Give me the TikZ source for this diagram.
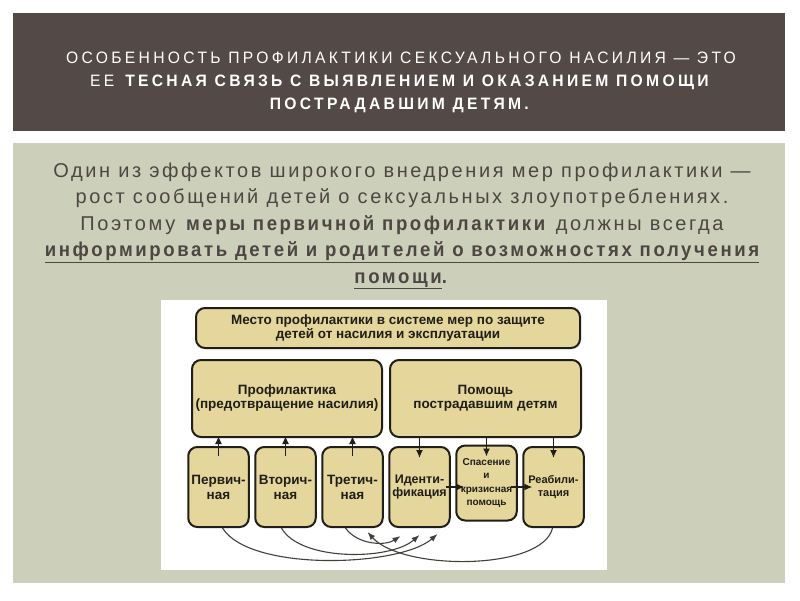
\documentclass[tikz,border=0pt]{standalone}
\usepackage{xcolor}
\usepackage{fontspec}
\setmainfont{Liberation Sans}
\newfontfamily\titlefont[FakeStretch=0.95,LetterSpace=20]{Liberation Sans}
\newfontfamily\bodyfont[LetterSpace=13,BoldFeatures={FakeStretch=0.93}]{Liberation Sans}
\usepackage{tikz}
\usetikzlibrary{arrows.meta,positioning}

\definecolor{headbg}{HTML}{534946}
\definecolor{panel}{HTML}{CCD0BA}
\definecolor{bodytext}{HTML}{4D4642}
\definecolor{tan}{HTML}{E5D69B}
\definecolor{ink}{HTML}{1F1E18}

\begin{document}
\begin{tikzpicture}[x=1pt,y=-1pt,
  block/.style={rectangle,draw=ink,line width=2pt,rounded corners=9pt,fill=tan,align=center,inner sep=1pt,text=ink,font=\fontsize{13.5}{14}\selectfont\bfseries},
  low/.style={block,minimum width=60.5pt,minimum height=80pt},
  arr/.style={-{Latex[length=8pt,width=7pt]},line width=1.5pt,draw=ink},
  backarr/.style={-{Latex[length=8pt,width=6pt]},line width=1.1pt,draw=ink!85}
]
\useasboundingbox (0,0) rectangle (800,600);
\fill[white] (0,0) rectangle (800,600);
\fill[headbg] (13,13) rectangle (785,131);
\fill[panel] (13,143) rectangle (785,583);
\fill[white] (161,300) rectangle (607,570);

\node[text=white,align=center,font=\titlefont\fontsize{16.5}{23}\selectfont] (title) at (401,82)
  {ОСОБЕННОСТЬ ПРОФИЛАКТИКИ СЕКСУАЛЬНОГО НАСИЛИЯ — ЭТО\\
   ЕЕ \textbf{ТЕСНАЯ СВЯЗЬ С ВЫЯВЛЕНИЕМ И ОКАЗАНИЕМ ПОМОЩИ}\\
   \textbf{ПОСТРАДАВШИМ ДЕТЯМ.}};

\node[text=bodytext,align=center,font=\bodyfont\fontsize{20}{26.5}\selectfont] (lead) at (402,226)
  {Один из эффектов широкого внедрения мер профилактики —\\
   рост сообщений детей о сексуальных злоупотреблениях.\\
   Поэтому \textbf{меры первичной профилактики} должны всегда\\
   \textbf{\underline{информировать детей и родителей о возможностях получения}}\\
   \textbf{\underline{помощи}.}};

% upper levels
\node[block,minimum width=384pt,minimum height=40pt] (place) at (388,328)
  {Место профилактики в системе мер по защите\\детей от насилия и эксплуатации};
\node[block,minimum width=190pt,minimum height=77pt] (prev) at (287,398.5)
  {Профилактика\\(предотвращение насилия)};
\node[block,minimum width=191pt,minimum height=77pt,right=6pt of prev] (help)
  {Помощь\\пострадавшим детям};

% lower level
\node[low,font=\fontsize{13.5}{15}\selectfont\bfseries] (pri) at (218.5,487) {Первич-\\ная};
\node[low,font=\fontsize{13.5}{15}\selectfont\bfseries,right=4.5pt of pri] (sec) {Вторич-\\ная};
\node[low,font=\fontsize{13.5}{15}\selectfont\bfseries,right=4.5pt of sec] (ter) {Третич-\\ная};
\node[low,font=\fontsize{12.5}{13.5}\selectfont\bfseries,right=4.5pt of ter] (ident) {Иденти-\\фикация};
\node[low,font=\fontsize{10}{13.5}\selectfont\bfseries,minimum height=75pt,right=4.5pt of ident,yshift=4pt] (rescue)
  {Спасение\\и\\кризисная\\помощь};
\node[low,font=\fontsize{11}{13.5}\selectfont\bfseries,right=4.5pt of rescue,yshift=-4pt] (rehab) {Реабили-\\тация};

\foreach \n in {pri,sec,ter}
  \draw[arr] ([yshift=-10pt]\n.north) -- ([yshift=2pt]\n.north |- prev.south);
\foreach \n in {ident,rescue,rehab}
  \draw[arr] (\n.north |- help.south) -- ([yshift=-12pt]\n.north);

\draw[arr,line width=1.1pt] ([xshift=-5pt]ident.east) -- ([xshift=9pt]rescue.west |- ident.east);
\draw[arr,line width=1.1pt] ([xshift=-7pt]rescue.east |- ident.east) -- ([xshift=10pt]rehab.west);

% return links
\draw[backarr] ([xshift=4pt]pri.south) .. controls +(27,44) and +(-38,33) .. ([xshift=18pt,yshift=-6pt]ident.south);
\draw[backarr] ([xshift=-4pt]sec.south) .. controls +(18,33) and +(-30,26) .. ([yshift=-7pt]ident.south);
\draw[backarr] ([xshift=-7pt]ter.south) .. controls +(12,17) and +(-15,10) .. ([xshift=-19pt,yshift=-8pt]ident.south);
\draw[backarr] ([xshift=-1pt]rehab.south) .. controls +(-10,43) and +(35,39) .. ([xshift=15pt,yshift=-4pt]ter.south);
\end{tikzpicture}
\end{document}
